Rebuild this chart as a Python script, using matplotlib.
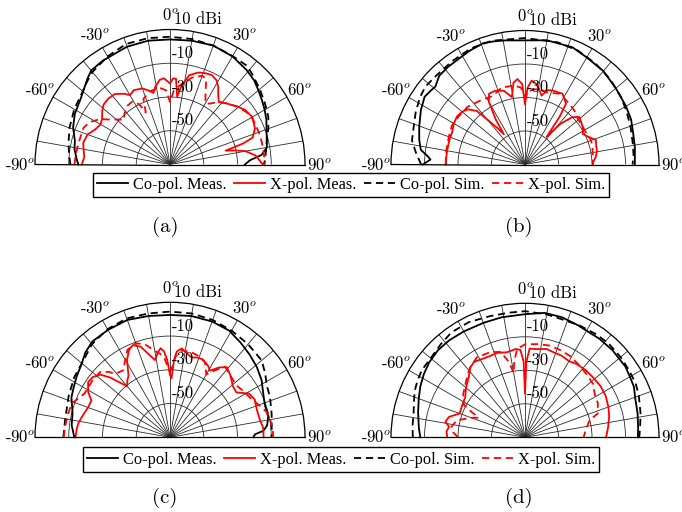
import numpy as np
import matplotlib
matplotlib.use('Agg')
import matplotlib.pyplot as plt
from matplotlib.transforms import offset_copy
from matplotlib.lines import Line2D

plt.rcParams['mathtext.fontset'] = 'cm'
plt.rcParams['font.family'] = ['cmr10', 'DejaVu Serif']
plt.rcParams['axes.unicode_minus'] = False

# ---------------- data (angle in degrees, gain in dB) ----------------
# (a)
a_co_meas_ang = [-90, -87, -81, -76, -69, -62, -54, -48, -44, -40, -33, -25, -20, -10, 0, 10, 20, 30, 39, 45, 50, 55, 60, 65, 72, 80, 84, 87, 90]
a_co_meas_db = [-15.7, -14.7, -12.7, -11.9, -8.5, -6.1, -4.4, -1.8, 0.5, 2.7, 3.3, 3.5, 4.3, 4.5, 4.1, 4.5, 5.0, 4.0, 2.1, 0.5, -1.6, -3.5, -5.2, -7.0, -9.8, -11.7, -15.4, -22.6, -25.6]
a_co_sim_ang = [-90, -85, -78, -70, -60, -51, -45, -40, -30, -20, -10, 0, 10, 20, 30, 38, 42, 50, 57, 64, 70, 76, 82, 87, 90]
a_co_sim_db = [-11, -10, -8.5, -6.6, -4.5, -2.8, -0.5, 1.5, 4, 6, 6, 5.7, 5.5, 5, 4.2, 4.2, 2.5, -0.5, -3, -5.2, -8, -10.9, -12.5, -13.7, -14]
a_x_meas_ang = [-90, -85, -80, -76, -70, -65, -60, -56, -52, -48, -43, -38, -33, -30, -26, -20, -15, -13, -11, -7, -4, 0, 2, 4, 6, 8, 12, 17, 21, 25, 29, 32, 34, 38, 42, 46, 50, 54, 60, 67, 72, 74, 76, 78, 80, 84, 90]
a_x_meas_db = [-17.7, -19, -18, -17, -18, -21, -22.5, -21.5, -19, -17, -16.5, -17, -20, -22.5, -21, -22, -25, -26.5, -23.5, -19.5, -18.8, -22, -19, -19, -29.5, -24, -16, -13, -12, -11.5, -13, -16, -19, -23, -21, -19.2, -17, -15, -13.7, -15.3, -18.5, -25, -36, -30, -24.5, -19, -15]
a_x_sim_ang = [-90, -85, -77, -67, -62, -57, -53, -49, -46, -42, -36, -31, -27, -25, -22, -15, -8, -3, 0, 3, 8, 14, 20, 23, 26, 30, 33, 38, 44, 50, 56, 62, 70, 76, 82, 86, 90]
a_x_sim_db = [-13.5, -13.7, -14.3, -14.3, -16.3, -20.6, -25.8, -29.3, -32, -29.7, -27, -26.5, -30, -36, -28, -25, -24, -26, -33, -26, -22, -17, -14, -15, -22, -28, -27, -23, -20, -17, -15, -14, -14, -14, -14, -14, -14.5]

# (b)
b_co_meas_ang = [-90, -87, -85, -82, -77, -70.5, -62.5, -56, -52, -49, -44, -38, -32, -26, -19, -14, -9, 0, 10, 22, 30, 40, 50, 60, 67, 74, 81, 90]
b_co_meas_db = [-9, -13.5, -11.5, -7.2, -5.2, -3, 0.1, 2.3, 1.5, 0.9, 3.7, 4.2, 4.5, 5.5, 6.6, 5.8, 5, 4.1, 5.3, 5.5, 3.8, 2.8, 0.8, -0.4, -1.2, -2.8, -3.6, -4.4]
b_co_sim_ang = [-90, -84, -78, -72, -64, -57, -52, -45, -35, -25, -15, 0, 15, 25, 35, 45, 55, 62, 70, 80, 86, 90]
b_co_sim_db = [-8, -4.6, -1, 0, 2.5, 4.5, 5.5, 5, 5.5, 6.5, 6.5, 5.5, 5.5, 5, 3.5, 2, 0, -1.5, -3, -4.5, -5, -5.8]
b_x_meas_ang = [-90, -85, -80, -72, -66, -60, -55, -50, -46, -42, -40, -37, -35, -33, -30, -27, -22, -16, -11, -8, -5, -2, 0, 2, 4.5, 9, 13.5, 17, 21, 28, 34, 36, 38, 41, 45, 49, 53, 57, 62, 66, 71, 75, 79, 84, 87, 90]
b_x_meas_db = [-22.6, -22.8, -22.8, -22.5, -22.4, -21, -20.3, -21, -22.6, -27, -35, -43, -48, -38, -27, -22.6, -22.5, -24.2, -29, -20.6, -18.8, -22, -34, -24, -19.8, -22, -27.7, -23.5, -22.8, -22.2, -26.2, -35, -49, -38, -30, -26.9, -28, -28.9, -31, -29, -25.2, -26, -26.3, -27.5, -29, -29.5]
b_x_sim_ang = [-90, -87, -80, -70, -62, -55, -45, -35, -25, -17, -8, -3, 0, 3, 10, 17, 26, 36, 43, 49, 55, 60, 70, 76, 84, 90]
b_x_sim_db = [-23, -22.6, -22.2, -21.6, -20.6, -21, -21.4, -23.4, -24.8, -22, -22.4, -24, -30, -26, -24, -25, -23, -25, -26.5, -28.3, -28.5, -29, -28, -28.5, -29.3, -29.5]

# (c)
c_co_meas_ang = [-90, -83, -76, -68, -63, -57, -50, -45, -39, -30, -20, -10, 0, 10, 20, 29, 37, 44, 51, 58, 65, 71, 78, 83, 86, 88, 90]
c_co_meas_db = [-13.3, -11.3, -10.5, -7, -5.8, -4, -1.8, 1, 3.1, 3.5, 4, 3, 2.5, 3, 3, 2.3, -0.1, -2, -3.8, -6, -9, -10.6, -10.5, -12, -14.5, -19.6, -20.6]
c_co_sim_ang = [-90, -81, -68, -58, -48, -40, -30, -20, -10, 0, 10, 20, 30, 40, 50, 56, 62, 68, 77, 85, 90]
c_co_sim_db = [-6.8, -7, -5.2, -3, -1.3, 2, 4, 5, 4.5, 4.5, 4.5, 4, 3, 2, 0.9, -2, -5, -6.1, -8.2, -9.5, -9.8]
c_x_meas_ang = [-90, -85, -81, -75, -70, -65, -61, -56, -52, -48, -45, -42, -40, -37, -34, -29, -25, -22, -18, -15, -11, -8, -6, -4, -2, 0, 1.5, 3, 4.5, 7.5, 11, 15, 19, 23, 28, 31, 35, 39, 44, 47, 51, 56, 61, 66, 72, 79, 84, 90]
c_x_meas_db = [-14, -14.5, -15.1, -17, -18.3, -18.6, -14.5, -11.5, -12, -14.5, -20, -27, -30.5, -28, -26, -17.5, -12.7, -11.1, -13.5, -18.3, -23.4, -19, -16.9, -19, -24.2, -33, -35, -24, -19, -16.9, -19, -21, -20, -20, -22, -24, -19.5, -16.5, -18.6, -20.2, -22, -22.5, -16.5, -15, -16, -15.7, -14.5, -14.5]
c_x_sim_ang = [-90, -84, -77, -71, -67, -63, -60, -54, -47, -43, -41, -35, -30, -26, -20, -15, -10, -7, -4, -1, 1, 4, 8, 14, 20, 25, 30, 34, 38, 45, 52, 58, 64, 70, 75, 79, 85, 90]
c_x_sim_db = [-7, -7.5, -8, -8.4, -11, -13, -13.3, -13, -13.3, -17, -20.2, -21.6, -17, -12.4, -10.7, -13, -18, -20, -23, -30, -30, -22, -18, -18, -19, -21, -27, -22, -17, -19, -20, -18.6, -17, -14, -11, -9.8, -9, -8.8]

# (d)
d_co_meas_ang = [-90, -85, -77, -70, -64, -58, -52, -45, -38, -30, -20, -11, 0, 9, 17, 25, 37, 45, 55, 60, 65, 71, 75, 78, 85, 90]
d_co_meas_db = [-7.5, -6.4, -4.5, -2.5, -0.5, 1.2, 2.6, 3.5, 3.5, 3, 2.7, 3, 3.5, 5.2, 5, 4, 3.7, 3.7, 3.3, 2.3, 1.7, -0.3, -1, -1.3, -2.2, -2.6]
d_co_sim_ang = [-90, -84, -78, -72, -67, -62, -57, -50, -42, -35, -26, -16, -7, 0, 10, 17, 26, 35, 42, 50, 57, 64, 70, 78, 85, 90]
d_co_sim_db = [-3, -2.5, -2, -0.3, 1.5, 2.6, 3.5, 3.5, 5, 6.5, 6.5, 5.3, 5, 5.3, 4.5, 3.8, 4.3, 4.8, 5, 4.5, 3.9, 3.5, 2.3, 0.5, -1, -1.8]
d_x_meas_ang = [-90, -86, -82, -79, -75, -70, -64, -56, -50, -43, -38, -34, -30, -25, -18, -12, -6, -3, -1, 0, 1, 3, 7.5, 13.7, 19, 24, 30, 35, 42, 48, 56, 63, 70, 76, 83, 90]
d_x_meas_db = [-23.6, -23, -24.2, -21.6, -23, -28.5, -28, -27, -24, -20.8, -17, -15.7, -16.5, -17.1, -17, -18.1, -17, -17.8, -25, -44, -25, -17, -16.9, -15.7, -16.5, -16.6, -17.5, -16.5, -16, -15.9, -15.5, -15.9, -17, -18.2, -20, -21.6]
d_x_sim_ang = [-90, -86, -82, -76, -70, -67, -64, -62, -55, -48, -42, -38, -31, -22, -16, -12, -10, -8, -5, 0, 8, 15, 22, 29, 36, 44, 52, 58, 65, 72, 75, 83, 90]
d_x_sim_db = [-30, -27, -25.6, -28, -36, -40, -33, -28.7, -25, -22.2, -19, -16.9, -14.3, -15.1, -17, -24, -31, -24, -17, -14.5, -13.8, -13.3, -13.8, -14.5, -16, -17.3, -18.4, -21, -22, -24.4, -30, -33.5, -35]

theta_labels = [-90, -60, -30, 0, 30, 60, 90]
r_labels = [(10, '10 dBi'), (-10, '-10'), (-30, '-30'), (-50, '-50')]
legend_labels = ['Co-pol. Meas.', 'X-pol. Meas.', 'Co-pol. Sim.', 'X-pol. Sim.']
captions = ['(a)', '(b)', '(c)', '(d)']

panels = [
    (a_co_meas_ang, a_co_meas_db, a_x_meas_ang, a_x_meas_db, a_co_sim_ang, a_co_sim_db, a_x_sim_ang, a_x_sim_db),
    (b_co_meas_ang, b_co_meas_db, b_x_meas_ang, b_x_meas_db, b_co_sim_ang, b_co_sim_db, b_x_sim_ang, b_x_sim_db),
    (c_co_meas_ang, c_co_meas_db, c_x_meas_ang, c_x_meas_db, c_co_sim_ang, c_co_sim_db, c_x_sim_ang, c_x_sim_db),
    (d_co_meas_ang, d_co_meas_db, d_x_meas_ang, d_x_meas_db, d_co_sim_ang, d_co_sim_db, d_x_sim_ang, d_x_sim_db),
]

# ---------------- layout ----------------
W, H = 682, 512
fig = plt.figure(figsize=(W / 100, H / 100), dpi=100)
geo = [(170, 164.5, 135), (525, 164.5, 134), (170, 437.3, 135), (525, 437.3, 134)]
cap_pos = [(165, 227), (519, 227), (165, 498), (519, 498)]
leg_pos = [(351, 185), (341, 459.5)]

RMIN, RMAX = -70, 10
dash = (0, (4, 2.6))
styles = [dict(color='k', ls='-'), dict(color='#ff0000', ls='-'),
          dict(color='k', ls=dash), dict(color='#ff0000', ls=dash)]

handles = [Line2D([], [], lw=1.3, **st) for st in styles]

for i, (cx, cy, R) in enumerate(geo):
    # polar wedge bbox is padded to a square: half-disc sits in the middle of a 2R x 2R box
    ax = fig.add_axes([(cx - R) / W, (H - (cy + 0.5 * R)) / H, 2 * R / W, 2 * R / H], projection='polar')
    ax.set_theta_zero_location('N')
    ax.set_theta_direction(-1)
    ax.set_thetamin(-90)
    ax.set_thetamax(90)
    ax.set_rlim(RMIN, RMAX)
    ax.set_xticks(np.radians(np.arange(-90, 91, 10)))
    ax.set_xticklabels([])
    ax.set_yticks([-50, -30, -10])
    ax.set_yticklabels([])
    ax.grid(True, color='#2a2a2a', lw=0.6)
    ax.tick_params(length=0)
    ax.patch.set_alpha(0)
    for s in ax.spines.values():
        s.set_color('k')
        s.set_linewidth(0.9)
    d = panels[i]
    for k in range(4):
        ax.plot(np.radians(d[2 * k]), d[2 * k + 1], lw=1.3, clip_on=False, **styles[k])
    for t in theta_labels:
        ax.text(np.radians(t), 18.6, f'{t}$^o$', ha='center', va='center', fontsize=12, clip_on=False)
    for rv, lab in r_labels:
        tr = offset_copy(ax.transData, fig=fig, x=(4 if rv == 10 else 2), y=10, units='dots')
        ax.text(0, rv, lab, transform=tr, ha='left', va='center', fontsize=12, clip_on=False)
    fig.text(cap_pos[i][0] / W, 1 - cap_pos[i][1] / H, captions[i], ha='center', va='center', fontsize=15)

for (lx, ly) in leg_pos:
    leg = fig.legend(handles, legend_labels, loc='center', bbox_to_anchor=(lx / W, 1 - ly / H),
                     ncol=4, frameon=True, fancybox=False, edgecolor='k', framealpha=1,
                     prop={'family': 'Liberation Serif', 'size': 11.8},
                     handlelength=1.9, handletextpad=0.3, columnspacing=0.45, borderpad=0.25,
                     borderaxespad=0)
    leg.get_frame().set_linewidth(1.0)

fig.savefig('out.png', dpi=100)
